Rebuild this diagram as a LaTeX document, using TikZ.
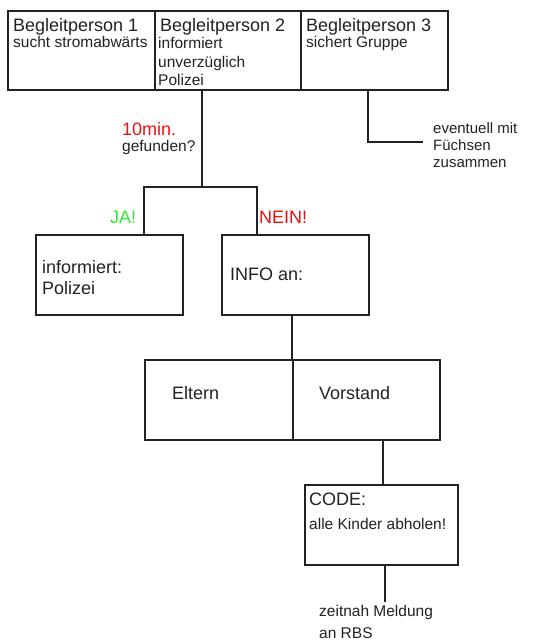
\documentclass[tikz,border=0pt]{standalone}
\usepackage{fontspec}
\setmainfont{Liberation Sans}
\definecolor{ink}{HTML}{222222}
\definecolor{jagreen}{HTML}{33E633}
\definecolor{neinred}{HTML}{EE1111}
\begin{document}
\begin{tikzpicture}[x=1pt,y=-1pt,
  box/.style={draw=ink,line width=1.6pt,inner sep=0pt,anchor=north west},
  conn/.style={draw=ink,line width=1.6pt},
  big/.style={inner sep=0pt,anchor=base west,text=ink,font=\fontsize{18}{20}\selectfont},
  small/.style={inner sep=0pt,anchor=base west,text=ink,font=\fontsize{15.5}{18.5}\selectfont},
  note/.style={inner sep=0pt,anchor=base west,text=ink,font=\fontsize{15}{18}\selectfont,align=left}]
\useasboundingbox (0,0) rectangle (542,643);
\fill[white] (0,0) rectangle (542,643);
% top boxes
\node[box,minimum width=147pt,minimum height=79pt] (b1) at (7,10) {};
\node[box,minimum width=146pt,minimum height=79pt] (b2) at (154,10) {};
\node[box,minimum width=147pt,minimum height=79pt] (b3) at (300,10) {};
\node[big] (t1) at (13,31) {Begleitperson 1};
\node[small] (s1) at (13,47) {sucht stromabwärts};
\node[big] (t2) at (160,31) {Begleitperson 2};
\node[small] (s2a) at (158,48) {informiert};
\node[small] (s2b) at (158,67) {unverzüglich};
\node[small] (s2c) at (158,85) {Polizei};
\node[big] (t3) at (306,31) {Begleitperson 3};
\node[small] (s3) at (306,47) {sichert Gruppe};
% side note from box 3
\coordinate (b3down) at (368,142);
\coordinate (b3end) at (423,142);
\draw[conn] (b3.south -| b3down) -- (b3down) -- (b3end);
\node[note] (ev1) at (433,133) {eventuell mit};
\node[note] (ev2) at (433,150) {Füchsen};
\node[note] (ev3) at (433,167) {zusammen};
% question
\node[big,text=neinred] (q1) at (122,135) {10min.};
\node[small] (q2) at (122,151) {gefunden?};
% branches
\node[box,minimum width=147pt,minimum height=80pt] (pol) at (35,234) {};
\node[box,minimum width=147pt,minimum height=80pt] (info) at (221,234) {};
\coordinate (split) at (202,187);
\coordinate (ja) at (144,234);
\coordinate (nein) at (257,234);
\draw[conn] (b2.south -| split) -- (split);
\draw[conn] (ja) |- (split) -| (nein);
\node[big,text=jagreen] (jat) at (110,223) {JA!};
\node[big,text=neinred] (neint) at (259,223) {NEIN!};
\node[big] (pol1) at (42,273) {informiert:};
\node[big] (pol2) at (42,294) {Polizei};
\node[big] (info1) at (230,280) {INFO an:};
% Eltern / Vorstand
\node[box,minimum width=148pt,minimum height=80pt] (elt) at (144,359) {};
\node[box,minimum width=147pt,minimum height=80pt] (vor) at (292,359) {};
\coordinate (ev) at (292,359);
\coordinate (evtop) at (292,314);
\draw[conn,line width=2pt] (evtop) -- (ev);
\node[big] (eltt) at (172,399) {Eltern};
\node[big] (vort) at (319,399) {Vorstand};
% CODE
\node[box,minimum width=153pt,minimum height=80pt] (code) at (304,484) {};
\coordinate (vc) at (383,484);
\draw[conn] (vor.south -| vc) -- (vc);
\node[big] (code1) at (309,505) {CODE:};
\node[small] (code2) at (309,529) {alle Kinder abholen!};
\coordinate (cend) at (385,602);
\draw[conn] (code.south -| cend) -- (cend);
\node[small] (z1) at (319,616) {zeitnah Meldung};
\node[small] (z2) at (319,638) {an RBS};
\end{tikzpicture}
\end{document}
